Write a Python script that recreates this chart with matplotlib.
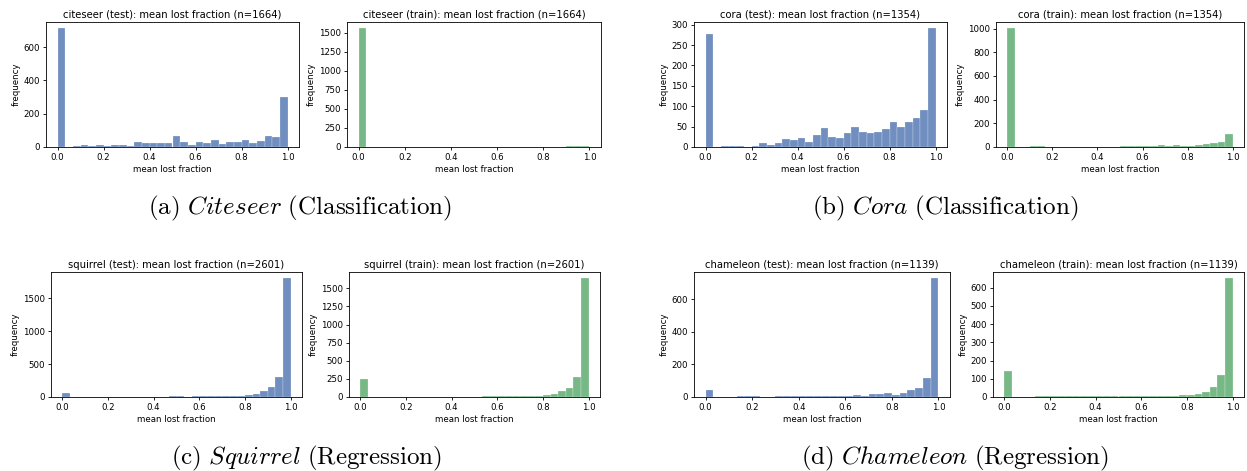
import numpy as np
import matplotlib

matplotlib.use("Agg")
import matplotlib.pyplot as plt

plt.rcParams["mathtext.fontset"] = "cm"

# counts per bin, 30 equal bins over [0, 1]
citeseer_test = [715, 2, 5, 10, 6, 10, 8, 15, 15, 8, 28, 22, 22, 22, 22,
                 64, 28, 15, 28, 22, 44, 16, 28, 28, 44, 26, 38, 66, 58, 302]
citeseer_train = [1562, 0, 3, 5, 3, 2, 4, 2, 3, 4, 2, 2, 3, 4, 2,
                  3, 2, 3, 2, 3, 4, 3, 2, 3, 3, 3, 6, 7, 8, 12]
cora_test = [278, 0, 3, 3, 2, 1, 3, 9, 6, 9, 19, 16, 21, 13, 29,
             46, 24, 22, 35, 48, 38, 35, 38, 45, 61, 50, 61, 72, 90, 292]
cora_train = [1006, 0, 1, 5, 5, 3, 3, 4, 4, 3, 4, 3, 4, 3, 4,
              8, 8, 8, 10, 5, 14, 5, 18, 10, 12, 14, 25, 30, 45, 112]
squirrel_test = [66, 0, 1, 1, 1, 1, 1, 1, 1, 1, 2, 2, 2, 3, 8,
                 8, 6, 10, 12, 14, 18, 20, 18, 22, 25, 46, 86, 152, 305, 1805]
squirrel_train = [255, 1, 1, 1, 1, 1, 2, 2, 2, 3, 5, 3, 3, 6, 6,
                  4, 8, 8, 12, 12, 15, 18, 18, 20, 28, 42, 88, 125, 274, 1644]
chameleon_test = [41, 2, 2, 2, 5, 4, 4, 3, 3, 8, 5, 4, 8, 5, 6,
                  6, 4, 4, 8, 10, 8, 16, 20, 22, 15, 27, 41, 58, 118, 732]
chameleon_train = [144, 1, 1, 1, 4, 4, 4, 4, 4, 4, 5, 4, 4, 5, 4,
                   6, 6, 3, 4, 5, 8, 6, 8, 10, 12, 14, 29, 53, 118, 653]

panels = [
    ("citeseer (test): mean lost fraction (n=1664)", citeseer_test, "test", [0, 200, 400, 600]),
    ("citeseer (train): mean lost fraction (n=1664)", citeseer_train, "train", [0, 250, 500, 750, 1000, 1250, 1500]),
    ("cora (test): mean lost fraction (n=1354)", cora_test, "test", [0, 50, 100, 150, 200, 250, 300]),
    ("cora (train): mean lost fraction (n=1354)", cora_train, "train", [0, 200, 400, 600, 800, 1000]),
    ("squirrel (test): mean lost fraction (n=2601)", squirrel_test, "test", [0, 500, 1000, 1500]),
    ("squirrel (train): mean lost fraction (n=2601)", squirrel_train, "train", [0, 250, 500, 750, 1000, 1250, 1500]),
    ("chameleon (test): mean lost fraction (n=1139)", chameleon_test, "test", [0, 200, 400, 600]),
    ("chameleon (train): mean lost fraction (n=1139)", chameleon_train, "train", [0, 100, 200, 300, 400, 500, 600]),
]

captions = [
    r"$\mathrm{(a)}\ \mathit{Citeseer}\ \mathrm{(Classification)}$",
    r"$\mathrm{(b)}\ \mathit{Cora}\ \mathrm{(Classification)}$",
    r"$\mathrm{(c)}\ \mathit{Squirrel}\ \mathrm{(Regression)}$",
    r"$\mathrm{(d)}\ \mathit{Chameleon}\ \mathrm{(Regression)}$",
]

W, H = 1247, 471
# axes boxes in pixels: left, top, right, bottom
boxes = [
    (46, 22, 299, 147), (347, 22, 601, 147), (694, 22, 947, 147), (996, 22, 1244, 147),
    (51, 272, 302, 397), (349, 272, 600, 397), (694, 272, 950, 397), (993, 272, 1244, 397),
]
caption_pos = [(300, 208), (945, 208), (306, 458), (955, 458)]

colors = {"test": "#4C72B0", "train": "#55A868"}
edges = np.linspace(0, 1, 31)

fig = plt.figure(figsize=(W / 100, H / 100), dpi=100)

for (title, counts, split, yticks), (l, t, r, b) in zip(panels, boxes):
    ax = fig.add_axes([l / W, 1 - b / H, (r - l) / W, (b - t) / H])
    ax.hist(edges[:-1], bins=edges, weights=counts, color=colors[split],
            alpha=0.8, edgecolor="white", linewidth=0.2)
    ax.set_title(title, fontsize=7.2, pad=3)
    ax.set_xlabel("mean lost fraction", fontsize=6.2, labelpad=2)
    ax.set_ylabel("frequency", fontsize=6.2, labelpad=2)
    ax.set_xticks([0, 0.2, 0.4, 0.6, 0.8, 1.0])
    ax.set_yticks(yticks)
    ax.tick_params(labelsize=6.2, length=2.5, width=0.6, pad=2)
    for s in ax.spines.values():
        s.set_linewidth(0.6)

for text, (x, y) in zip(captions, caption_pos):
    fig.text(x / W, 1 - y / H, text, ha="center", va="center", fontsize=18)

fig.savefig("out.png", dpi=100)
